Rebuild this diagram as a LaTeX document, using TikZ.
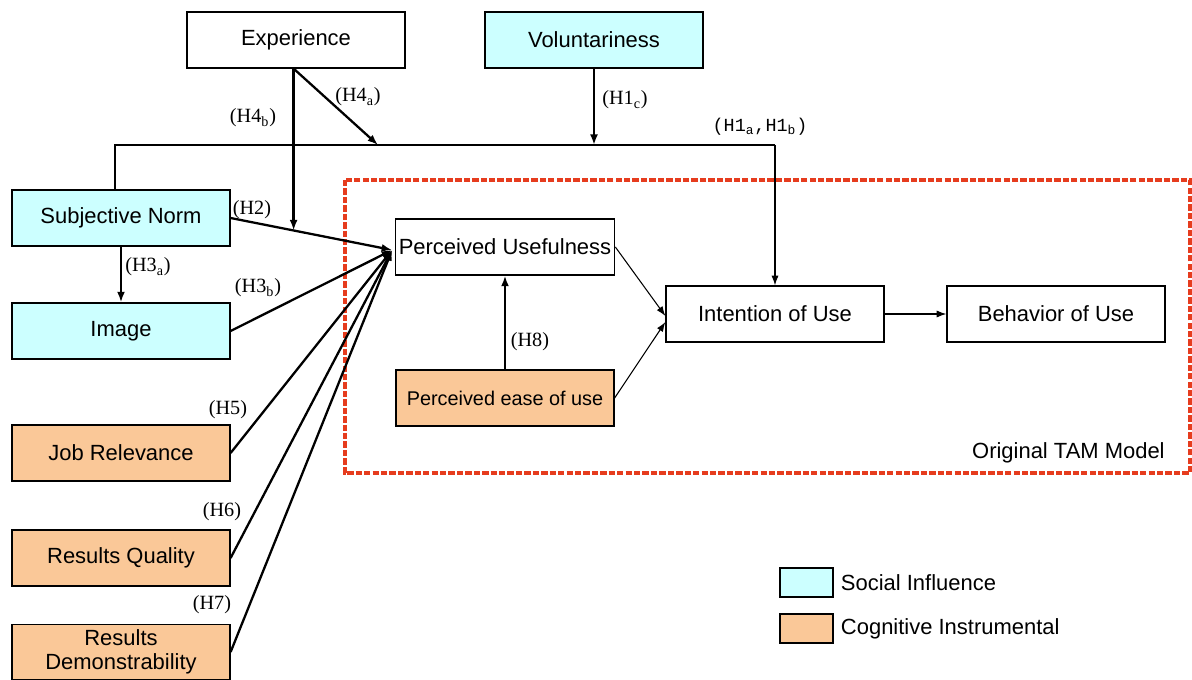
\documentclass[tikz,border=0pt]{standalone}
\usepackage{fontspec}
\setmainfont{Liberation Sans}
\newfontfamily\hypSerif{Liberation Serif}
\newfontfamily\hypMono{Liberation Mono}
\usepackage{tikz}
\usetikzlibrary{positioning, shapes, arrows, arrows.meta, calc}
\definecolor{tamSocial}{HTML}{CCFFFF}
\definecolor{tamCognitive}{HTML}{FAC898}
\definecolor{tamFrame}{HTML}{E63C1E}
\tikzset{
    tamBoxBase/.style={
        rectangle,
        draw,
        line width=0.7pt,
        minimum height=1.12cm,
        minimum width=4.36cm,
        font=\fontsize{12.5}{14}\selectfont,
        align=center,
        inner sep=2pt
    },
    % Semantic Variants
    plain/.style={tamBoxBase, fill=white},
    social/.style={tamBoxBase, fill=tamSocial},
    cognitive/.style={tamBoxBase, fill=tamCognitive},
    legendBox/.style={rectangle, draw, line width=0.7pt, minimum width=1.06cm, minimum height=0.58cm},
    legendText/.style={font=\fontsize{12.5}{14}\selectfont, inner sep=0pt},
    % Frame
    tamFrameLine/.style={draw=tamFrame, line width=2.4pt, dash pattern=on 3.6pt off 1.2pt},
    % Arrows
    hypArrow/.style={-{Latex[length=6pt,width=4.5pt]}, line width=1.3pt},
    thinArrow/.style={-{Latex[length=5.5pt,width=4pt]}, line width=0.6pt},
    thinLine/.style={line width=0.6pt},
    hypLabel/.style={font=\hypSerif\fontsize{11.5}{13}\selectfont, inner sep=1pt}
}
\begin{document}
\begin{tikzpicture}
    \useasboundingbox (0,0) rectangle (23.84,-13.6);

    % Original TAM frame
    \draw[tamFrameLine] (6.9,-3.6) rectangle (23.8,-9.46);
    \node[legendText, anchor=south east] (tamName) at (23.3,-9.26) {Original TAM Model};

    % External variables
    \node[plain] (exp) at (5.92,-0.8) {Experience};
    \node[social] (vol) at (11.88,-0.8) {Voluntariness};
    \node[social] (sn) at (2.42,-4.36) {Subjective Norm};
    \node[social] (img) at (2.42,-6.62) {Image};
    \node[cognitive] (job) at (2.42,-9.06) {Job Relevance};
    \node[cognitive] (rq) at (2.42,-11.16) {Results Quality};
    \node[cognitive, minimum height=1.1cm] (rd) at (2.42,-13.04) {Results\\Demonstrability};

    % TAM core
    \node[plain] (pu) at (10.1,-4.94) {Perceived Usefulness};
    \node[cognitive, font=\fontsize{11.3}{13}\selectfont] (peu) at (10.1,-7.96) {Perceived ease of use};
    \node[plain] (iou) at (15.5,-6.28) {Intention of Use};
    \node[plain] (bou) at (21.12,-6.28) {Behavior of Use};

    % Junctions
    \coordinate (puIn) at ($(pu.west)+(-0.05,-0.06)$);
    \coordinate (topLeft) at (2.3,-2.9);
    \coordinate (topRight) at (iou.north |- topLeft);
    \coordinate (hFourA) at (7.56,-2.9);
    \coordinate (hOneC) at (vol.south |- topLeft);
    \coordinate (hFourB) at ($(sn.east)!0.39!(puIn)$);

    % Moderators
    \draw[thinLine] (sn.north -| topLeft) -- (topLeft) -- (topRight);
    \draw[thinArrow] (topRight) -- (iou.north);
    \draw[hypArrow] (vol.south) -- (hOneC);
    \draw[hypArrow] (exp.south -| hFourB) -- (hFourA);
    \draw[hypArrow] (exp.south -| hFourB) -- (hFourB);

    % Determinants of usefulness
    \draw[hypArrow] (sn.east) -- (puIn);
    \draw[hypArrow] (sn.south) -- (img.north);
    \draw[hypArrow] (img.east) -- (puIn);
    \draw[hypArrow] (job.east) -- (puIn);
    \draw[hypArrow] (rq.east) -- (puIn);
    \draw[hypArrow] (rd.east) -- (puIn);

    % TAM links
    \draw[hypArrow] (peu.north) -- (pu.south);
    \draw[thinArrow] (pu.east) -- ($(iou.west)+(0,-0.04)$);
    \draw[thinArrow] (peu.east) -- ($(iou.west)+(0,-0.16)$);
    \draw[thinArrow] (iou.east) -- (bou.west);

    % Hypothesis labels
    \node[hypLabel] (lbHFourB) at (5.06,-2.36) {(H4\textsubscript{b})};
    \node[hypLabel] (lbHFourA) at (7.16,-1.94) {(H4\textsubscript{a})};
    \node[hypLabel] (lbHOneC) at (12.5,-2.0) {(H1\textsubscript{c})};
    \node[hypLabel, font=\hypMono\fontsize{10.5}{12}\selectfont] (lbHOneAB) at (15.2,-2.54) {(H1\textsubscript{a},H1\textsubscript{b})};
    \node[hypLabel] (lbHTwo) at (5.04,-4.2) {(H2)};
    \node[hypLabel] (lbHThreeA) at (2.96,-5.34) {(H3\textsubscript{a})};
    \node[hypLabel] (lbHThreeB) at (5.16,-5.76) {(H3\textsubscript{b})};
    \node[hypLabel] (lbHFive) at (4.56,-8.2) {(H5)};
    \node[hypLabel] (lbHSix) at (4.44,-10.24) {(H6)};
    \node[hypLabel] (lbHSeven) at (4.24,-12.1) {(H7)};
    \node[hypLabel] (lbHEight) at (10.6,-6.84) {(H8)};

    % Legend
    \node[legendBox, fill=tamSocial] (lgSocial) at (16.13,-11.65) {};
    \node[legendText, right=0.14cm of lgSocial] (lgSocialText) {Social Influence};
    \node[legendBox, fill=tamCognitive] (lgCog) at (16.13,-12.57) {};
    \node[legendText, right=0.14cm of lgCog] (lgCogText) {Cognitive Instrumental};
\end{tikzpicture}
\end{document}
